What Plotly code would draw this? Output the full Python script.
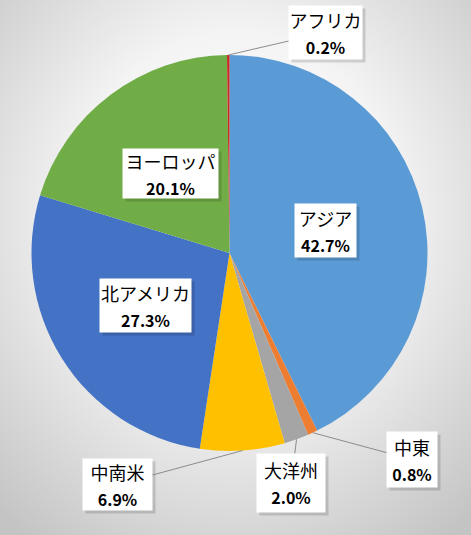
import base64
import math
import plotly.graph_objects as go

# ---- data ----
regions = ["アジア", "中東", "大洋州", "中南米", "北アメリカ", "ヨーロッパ", "アフリカ"]
shares = [42.7, 0.8, 2.0, 6.9, 27.3, 20.1, 0.2]
colors = ["#5B9BD5", "#ED7D31", "#A5A5A5", "#FFC000", "#4472C4", "#70AD47", "#C8281E"]

# ---- layout constants (pixels) ----
W, H = 471, 535
CX, CY, R = 229.5, 253.0, 198.0

# label boxes: (width, height, inside?, box centre for outside labels)
box_w = [61, 50, 68, 69, 91, 95, 73]
box_h = [53, 55, 58, 51, 53, 49, 53]
inside = [True, False, False, False, True, True, False]
outside_centres = {1: (412, 459.5), 2: (291, 483), 3: (117.5, 484.5), 6: (325.5, 32.5)}


def to_paper(px, py):
    return px / W, 1 - py / H


fig = go.Figure(go.Pie(
    labels=regions, values=shares, sort=False, direction="clockwise", rotation=0,
    marker=dict(colors=colors, line=dict(color="white", width=0)),
    textinfo="none", hoverinfo="label+percent",
    domain=dict(x=[(CX - R) / W, (CX + R) / W], y=[1 - (CY + R) / H, 1 - (CY - R) / H]),
    showlegend=False,
))

total = sum(shares)
cum = 0.0
shadows, boxes = [], []
for i, (name, v) in enumerate(zip(regions, shares)):
    mid = (cum + v / 2) / total
    cum += v
    ang = 2 * math.pi * mid
    text = (f"<span style='font-size:18px'>{name}</span><br>"
            f"<span style='font-size:16px'><b>{v:.1f}%</b></span>")
    if inside[i]:
        bx = CX + 0.5 * R * math.sin(ang)
        by = CY - 0.5 * R * math.cos(ang)
        x, y = to_paper(bx, by)
        arrow = dict(showarrow=False, xanchor="center", yanchor="middle")
    else:
        tx = CX + R * math.sin(ang)
        ty = CY - R * math.cos(ang)
        bx, by = outside_centres[i]
        x, y = to_paper(tx, ty)
        arrow = dict(showarrow=True, arrowhead=0, arrowwidth=1, arrowcolor="#8c8c8c",
                     ax=bx - tx, ay=by - ty, axref="pixel", ayref="pixel")
    sx, sy = to_paper(bx, by)
    shadows.append(dict(x=sx, y=sy, xref="paper", yref="paper", text=" ", showarrow=False,
                        xanchor="center", yanchor="middle",
                        width=box_w[i], height=box_h[i], borderpad=0,
                        bgcolor="rgba(0,0,0,0.14)", xshift=3, yshift=-3))
    boxes.append(dict(x=x, y=y, xref="paper", yref="paper", text=text,
                      width=box_w[i], height=box_h[i], borderpad=0, bgcolor="white",
                      font=dict(family="Noto Sans CJK JP", size=20, color="black"),
                      align="center", valign="middle", **arrow))

svg = (f"<svg xmlns='http://www.w3.org/2000/svg' width='{W}' height='{H}'>"
       "<defs><radialGradient id='g' cx='50%' cy='40%' r='75%'>"
       "<stop offset='0%' stop-color='#ffffff'/><stop offset='45%' stop-color='#f4f4f4'/>"
       "<stop offset='100%' stop-color='#c4c4c4'/></radialGradient></defs>"
       f"<rect width='{W}' height='{H}' fill='url(#g)'/></svg>")
src = "data:image/svg+xml;base64," + base64.b64encode(svg.encode()).decode()

fig.update_layout(
    width=W, height=H, margin=dict(l=0, r=0, t=0, b=0),
    paper_bgcolor="#e8e8e8", plot_bgcolor="rgba(0,0,0,0)",
    images=[dict(source=src, xref="paper", yref="paper", x=0, y=1, sizex=1, sizey=1,
                 xanchor="left", yanchor="top", sizing="stretch", layer="below")],
    annotations=shadows + boxes,
)
fig.write_html("out.html")
